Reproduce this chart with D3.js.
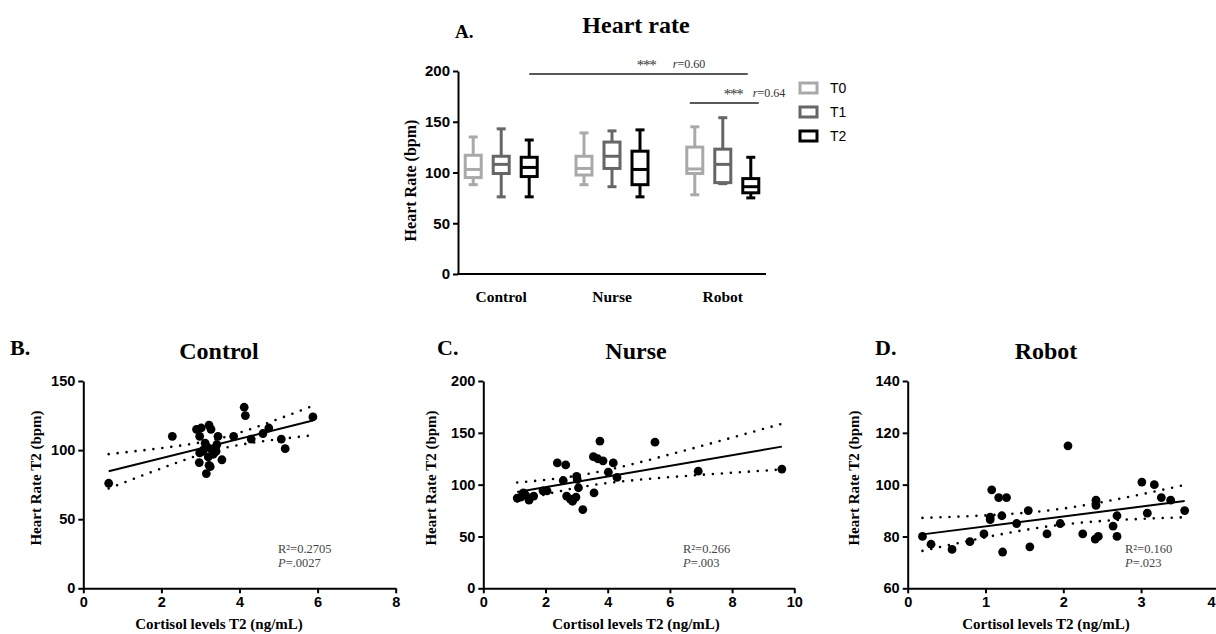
<!DOCTYPE html>
<html><head><meta charset="utf-8">
<script src="https://cdn.jsdelivr.net/npm/d3@7"></script>
<style>
body{margin:0;background:#fff;}
svg{display:block;}
.ax .tick text{font-family:"Liberation Sans",Arial,sans-serif;font-weight:bold;fill:#000;}
.ax path,.ax line{stroke:#000;stroke-width:2;}
.serifb{font-family:"Liberation Serif","Times New Roman",serif;font-weight:bold;fill:#000;}
.serif{font-family:"Liberation Serif","Times New Roman",serif;}
</style></head><body>
<svg id="chart" width="1216" height="634"></svg>
<script>
// ---------- Panel A data ----------
const groups = ["Control","Nurse","Robot"];
const times = ["T0","T1","T2"];
const timeColors = ["#a9a9a9","#666666","#000000"];
// [min, q1, median, q3, max]
const boxControl = [[88,95,103,117,135],[76,99,108,116,143],[76,96,105,115,132]];
const boxNurse   = [[88,97.5,104,116,139],[86,104,116,130,141],[76,88,103,121,142]];
const boxRobot   = [[78,99,103.5,125,145],[89,90,108,123,154],[75,80,86,94,115]];
const hrTicks = [0,50,100,150,200];
const sigLong  = {from:["Control","T2"], to:["Robot","T2"], y:197, stars:"***", r:"0.60"};
const sigShort = {from:["Robot","T0"], to:["Robot","T2"], y:168.5, stars:"***", r:"0.64"};

// ---------- Scatter data (cortisol T2 ng/mL, heart rate T2 bpm) ----------
const controlPts = [[0.65,76],[2.28,110],[2.9,115],[3.02,116],[3.22,118],[3.27,115],[2.98,110],[3.45,110],
  [3.42,104],[3.07,100],[3.18,102],[2.98,98],[3.33,97],[3.55,93],[2.97,91],[3.25,88],[3.15,83],[3.2,95],
  [3.3,100],[3.12,105],[3.4,99],[3.85,110],[4.12,131],[4.15,125],[4.3,108],[4.6,112],[4.75,116],[5.07,108],
  [5.17,101],[5.88,124],[3.05,99],[3.22,89]];
const nursePts = [[1.09,87],[1.2,88],[1.29,92],[1.36,90],[1.47,85],[1.62,89],[1.92,94],[2.05,94],[2.38,121],
  [2.65,119],[2.57,104],[2.68,89],[2.8,86],[2.87,84],[2.98,88],[3.0,108],[3.02,105],[3.06,97],[3.2,76],
  [3.56,92],[3.54,127],[3.75,142],[3.68,125],[3.85,123],[4.18,121],[4.02,112],[4.3,107],[5.52,141],[6.91,113],[9.6,115]];
const robotPts = [[0.19,80],[0.3,77],[0.57,75],[0.8,78],[0.98,81],[1.06,86.5],[1.06,87.5],[1.08,98],[1.17,95],
  [1.27,95],[1.21,88],[1.22,74],[1.4,85],[1.55,90],[1.57,76],[1.79,81],[1.96,85],[2.06,115],[2.25,81],[2.42,94],
  [2.42,92],[2.41,79],[2.45,80],[2.64,84],[2.69,88],[2.69,80],[3.01,101],[3.08,89],[3.17,100],[3.26,95],[3.38,94],[3.56,90]];
const controlXTicks = [0,2,4,6,8], controlYTicks = [0,50,100,150];
const nurseXTicks = [0,2,4,6,8,10], nurseYTicks = [0,50,100,150,200];
const robotXTicks = [0,1,2,3,4], robotYTicks = [60,80,100,120,140];
const statsControl = ["0.2705", ".0027"];
const statsNurse = ["0.266", ".003"];
const statsRobot = ["0.160", ".023"];

const svg = d3.select("#chart");
const intFmt = d3.format("d");

// ================= Panel A =================
const yA = d3.scaleLinear().domain([0,200]).range([274,71]);
const xA = d3.scalePoint().domain(groups).range([458,766]).padding(0.39);
const off = d3.scalePoint().domain(times).range([-28,28]);
const boxes = [boxControl, boxNurse, boxRobot];

const gA = svg.append("g");
gA.append("g").attr("class","ax").attr("transform","translate(458,0)")
  .call(d3.axisLeft(yA).tickValues(hrTicks).tickFormat(intFmt).tickSize(5).tickPadding(3).tickSizeOuter(0))
  .selectAll(".tick text").style("font-size","15px");
gA.append("line").attr("x1",457).attr("x2",766).attr("y1",yA(0)).attr("y2",yA(0))
  .attr("stroke","#000").attr("stroke-width",2);
gA.selectAll(".cat").data(groups).join("text").attr("class","serifb")
  .attr("x",d=>xA(d)).attr("y",302).attr("text-anchor","middle").style("font-size","15.5px").text(d=>d);
gA.append("text").attr("class","serifb").attr("transform",`translate(416,${(yA(0)+yA(200))/2+8}) rotate(-90)`)
  .attr("text-anchor","middle").style("font-size","16px").text("Heart Rate (bpm)");
gA.append("text").attr("class","serifb").attr("x",636).attr("y",33).attr("text-anchor","middle")
  .style("font-size","24px").text("Heart rate");
gA.append("text").attr("class","serifb").attr("x",455).attr("y",38).style("font-size","19px").text("A.");

const bw = 16, cw = 9;
groups.forEach((g,gi)=>{
  times.forEach((t,ti)=>{
    const [mn,q1,md,q3,mx] = boxes[gi][ti];
    const cx = xA(g)+off(t), col = timeColors[ti];
    const b = gA.append("g").attr("stroke",col).attr("stroke-width",3).attr("fill","none");
    b.append("line").attr("x1",cx).attr("x2",cx).attr("y1",yA(mx)).attr("y2",yA(q3));
    b.append("line").attr("x1",cx).attr("x2",cx).attr("y1",yA(q1)).attr("y2",yA(mn));
    b.append("line").attr("x1",cx-cw/2).attr("x2",cx+cw/2).attr("y1",yA(mx)).attr("y2",yA(mx));
    b.append("line").attr("x1",cx-cw/2).attr("x2",cx+cw/2).attr("y1",yA(mn)).attr("y2",yA(mn));
    b.append("rect").attr("x",cx-bw/2).attr("width",bw).attr("y",yA(q3)).attr("height",yA(q1)-yA(q3)).attr("fill","#fff");
    b.append("line").attr("x1",cx-bw/2).attr("x2",cx+bw/2).attr("y1",yA(md)).attr("y2",yA(md));
  });
});
// significance
[sigLong, sigShort].forEach((s,i)=>{
  const x1 = xA(s.from[0])+off(s.from[1]) - (i?5:0), x2 = xA(s.to[0])+off(s.to[1]) + (i?8:-3);
  const yl = yA(s.y);
  gA.append("line").attr("x1",x1).attr("x2",x2).attr("y1",yl).attr("y2",yl)
    .attr("stroke","#222").attr("stroke-width",1.6);
  const sx = i ? x2-35 : x2-111, rx = i ? x2-6 : x2-75;
  gA.append("text").attr("class","serif").attr("x",sx).attr("y",yl-4).attr("fill","#333")
    .style("font-size","15px").attr("textLength",20).text(s.stars);
  const t = gA.append("text").attr("class","serif").attr("x",rx).attr("y",yl-6)
    .style("font-size","12px").attr("fill","#333");
  t.append("tspan").style("font-style","italic").text("r");
  t.append("tspan").text("="+s.r);
});
// legend
const lg = svg.append("g");
times.forEach((t,i)=>{
  lg.append("rect").attr("x",800).attr("y",83+i*24).attr("width",17).attr("height",10)
    .attr("fill","#fff").attr("stroke",timeColors[i]).attr("stroke-width",3);
  lg.append("text").attr("x",830).attr("y",93+i*24).style("font-family","'Liberation Sans',Arial,sans-serif")
    .style("font-size","14px").text(t);
});

// ================= Scatter panels =================
function fit(pts){
  const n = pts.length, mx = d3.mean(pts,d=>d[0]), my = d3.mean(pts,d=>d[1]);
  const sxx = d3.sum(pts,d=>(d[0]-mx)**2), sxy = d3.sum(pts,d=>(d[0]-mx)*(d[1]-my));
  const b = sxy/sxx, a = my - b*mx;
  const s = Math.sqrt(d3.sum(pts,d=>(d[1]-a-b*d[0])**2)/(n-2));
  const t = 2.04;
  return {a,b,mx,n,sxx,s,t};
}
function scatter(cfg){
  const g = svg.append("g");
  const x = d3.scaleLinear().domain(cfg.xDom).range(cfg.xRange);
  const y = d3.scaleLinear().domain(cfg.yDom).range([588.3,381]);
  g.append("g").attr("class","ax").attr("transform",`translate(${cfg.xRange[0]},0)`)
    .call(d3.axisLeft(y).tickValues(cfg.yTicks).tickFormat(intFmt).tickSize(5).tickPadding(3).tickSizeOuter(0))
    .selectAll(".tick text").style("font-size","14.5px");
  const xa = g.append("g").attr("class","ax").attr("transform","translate(0,588.3)")
    .call(d3.axisBottom(x).tickValues(cfg.xTicks).tickFormat(intFmt).tickSize(5).tickPadding(3).tickSizeOuter(0));
  xa.selectAll(".tick text").style("font-size","14.5px");
  // keep a tick label that would fall past the right edge inside the picture
  xa.selectAll(".tick").filter(d=>x(d)>1210).select("text").attr("text-anchor","end").attr("dx",1215-x(cfg.xDom[1]));
  // fit
  const f = fit(cfg.pts);
  const [x0,x1] = d3.extent(cfg.pts,d=>d[0]);
  const xs = d3.range(0,41).map(i=>x0+(x1-x0)*i/40);
  const hw = xv => f.t*f.s*Math.sqrt(1/f.n + (xv-f.mx)**2/f.sxx);
  const ln = d3.line().x(d=>x(d[0])).y(d=>y(d[1]));
  const dotted = {fill:"none",stroke:"#000","stroke-width":2.6,"stroke-dasharray":"0,9","stroke-linecap":"round"};
  [1,-1].forEach(sg=>{
    const p = g.append("path").attr("d", ln(xs.map(v=>[v, f.a+f.b*v + sg*hw(v)])));
    Object.entries(dotted).forEach(([k,v])=>p.attr(k,v));
  });
  g.selectAll("circle").data(cfg.pts).join("circle")
    .attr("cx",d=>x(d[0])).attr("cy",d=>y(d[1])).attr("r",4.4).attr("fill","#000");
  g.append("path").attr("d", ln([[x0,f.a+f.b*x0],[x1,f.a+f.b*x1]]))
    .attr("stroke","#000").attr("stroke-width",2).attr("fill","none");
  // texts
  g.append("text").attr("class","serifb").attr("x",cfg.titleX).attr("y",359).attr("text-anchor","middle")
    .style("font-size","24px").text(cfg.title);
  g.append("text").attr("class","serifb").attr("x",cfg.letterX).attr("y",355).style("font-size","22px").text(cfg.letter);
  g.append("text").attr("class","serifb").attr("x",cfg.titleX).attr("y",629).attr("text-anchor","middle")
    .style("font-size","15px").text("Cortisol levels T2 (ng/mL)");
  g.append("text").attr("class","serifb").attr("transform",`translate(${cfg.ylabX},478) rotate(-90)`)
    .attr("text-anchor","middle").style("font-size","15px").text("Heart Rate T2 (bpm)");
  const st = g.append("g").attr("class","serif").style("font-size","12.5px").attr("fill","#444");
  st.append("text").attr("x",cfg.statX).attr("y",553).text("R²="+cfg.stats[0]);
  const pt = st.append("text").attr("x",cfg.statX).attr("y",567);
  pt.append("tspan").style("font-style","italic").text("P");
  pt.append("tspan").text("="+cfg.stats[1]);
}
scatter({pts:controlPts, xDom:[0,8], xRange:[83.3,395.7], yDom:[0,150], xTicks:controlXTicks, yTicks:controlYTicks,
  title:"Control", titleX:219, letter:"B.", letterX:10, ylabX:41, statX:278, stats:statsControl});
scatter({pts:nursePts, xDom:[0,10], xRange:[483.3,794.3], yDom:[0,200], xTicks:nurseXTicks, yTicks:nurseYTicks,
  title:"Nurse", titleX:636, letter:"C.", letterX:437, ylabX:436, statX:683, stats:statsNurse});
scatter({pts:robotPts, xDom:[0,4], xRange:[907.7,1218.9], yDom:[60,140], xTicks:robotXTicks, yTicks:robotYTicks,
  title:"Robot", titleX:1046, letter:"D.", letterX:875, ylabX:859, statX:1125, stats:statsRobot});
</script>
</body></html>
